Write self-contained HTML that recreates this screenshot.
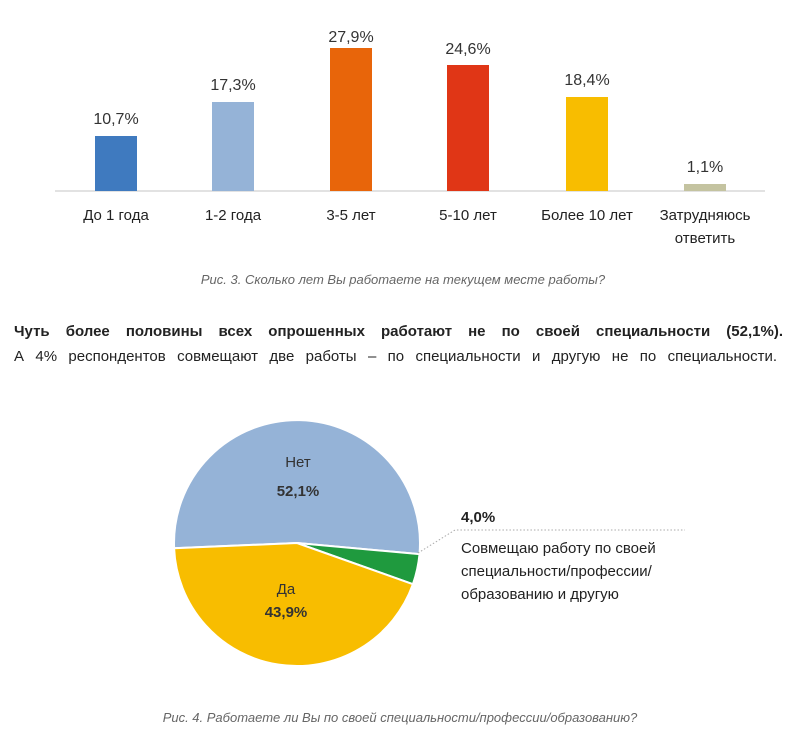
<!DOCTYPE html>
<html><head><meta charset="utf-8"><style>
body{margin:0;background:#fff;width:800px;height:739px;overflow:hidden;font-family:"Liberation Sans","DejaVu Sans",sans-serif;}
.p{position:absolute;left:14px;width:769px;font-size:15px;color:#222;text-align:justify;text-align-last:justify;white-space:nowrap;}
</style></head><body>
<svg width="800" height="739" style="position:absolute;left:0;top:0" font-family="Liberation Sans, DejaVu Sans, sans-serif">
<line x1="55" y1="191" x2="765" y2="191" stroke="#d9d9d9" stroke-width="1.5"/>
<rect x="95" y="136" width="42" height="55" fill="#3f7abf"/>
<rect x="212" y="102" width="42" height="89" fill="#95b3d7"/>
<rect x="330" y="48" width="42" height="143" fill="#e8650a"/>
<rect x="447" y="65" width="42" height="126" fill="#e03616"/>
<rect x="566" y="97" width="42" height="94" fill="#f8bd00"/>
<rect x="684" y="184" width="42" height="7" fill="#c4c3a0"/>
<g font-size="16" fill="#333" text-anchor="middle">
<text x="116" y="124">10,7%</text>
<text x="233" y="90">17,3%</text>
<text x="351" y="42">27,9%</text>
<text x="468" y="54">24,6%</text>
<text x="587" y="85">18,4%</text>
<text x="705" y="172">1,1%</text>
</g>
<g font-size="15" fill="#222" text-anchor="middle">
<text x="116" y="220">До 1 года</text>
<text x="233" y="220">1-2 года</text>
<text x="351" y="220">3-5 лет</text>
<text x="468" y="220">5-10 лет</text>
<text x="587" y="220">Более 10 лет</text>
<text x="705" y="220">Затрудняюсь</text>
<text x="705" y="243">ответить</text>
</g>
<text x="403" y="284" font-size="13" font-style="italic" fill="#666" text-anchor="middle">Рис. 3. Сколько лет Вы работаете на текущем месте работы?</text>

<path d="M297,543 L174.1,548.2 A123,123 0 1 1 419.5,554.1 Z" fill="#95b3d7" stroke="#fff" stroke-width="2"/>
<path d="M297,543 L419.5,554.1 A123,123 0 0 1 412.9,584.2 Z" fill="#1f9a3e" stroke="#fff" stroke-width="2"/>
<path d="M297,543 L412.9,584.2 A123,123 0 0 1 174.1,548.2 Z" fill="#f8bd00" stroke="#fff" stroke-width="2"/>
<polyline points="418,553 455,530 685,530" fill="none" stroke="#aaa" stroke-width="1" stroke-dasharray="1.5,2"/>
<g text-anchor="middle" fill="#333">
<text x="298" y="467" font-size="15">Нет</text>
<text x="298" y="496" font-size="15" font-weight="bold">52,1%</text>
<text x="286" y="594" font-size="15">Да</text>
<text x="286" y="617" font-size="15" font-weight="bold">43,9%</text>
</g>
<g font-size="15" fill="#222">
<text x="461" y="522" font-weight="bold">4,0%</text>
<text x="461" y="553">Совмещаю работу по своей</text>
<text x="461" y="576">специальности/профессии/</text>
<text x="461" y="599">образованию и другую</text>
</g>
<text x="400" y="722" font-size="13" font-style="italic" fill="#666" text-anchor="middle">Рис. 4.  Работаете ли Вы по своей специальности/профессии/образованию?</text>
</svg>
<div class="p" style="top:323px;font-weight:bold;">Чуть более половины всех опрошенных работают не по своей специальности (52,1%).</div>
<div class="p" style="top:348px;width:763px;">А 4% респондентов совмещают две работы – по специальности и другую не по специальности.</div>
</body></html>
